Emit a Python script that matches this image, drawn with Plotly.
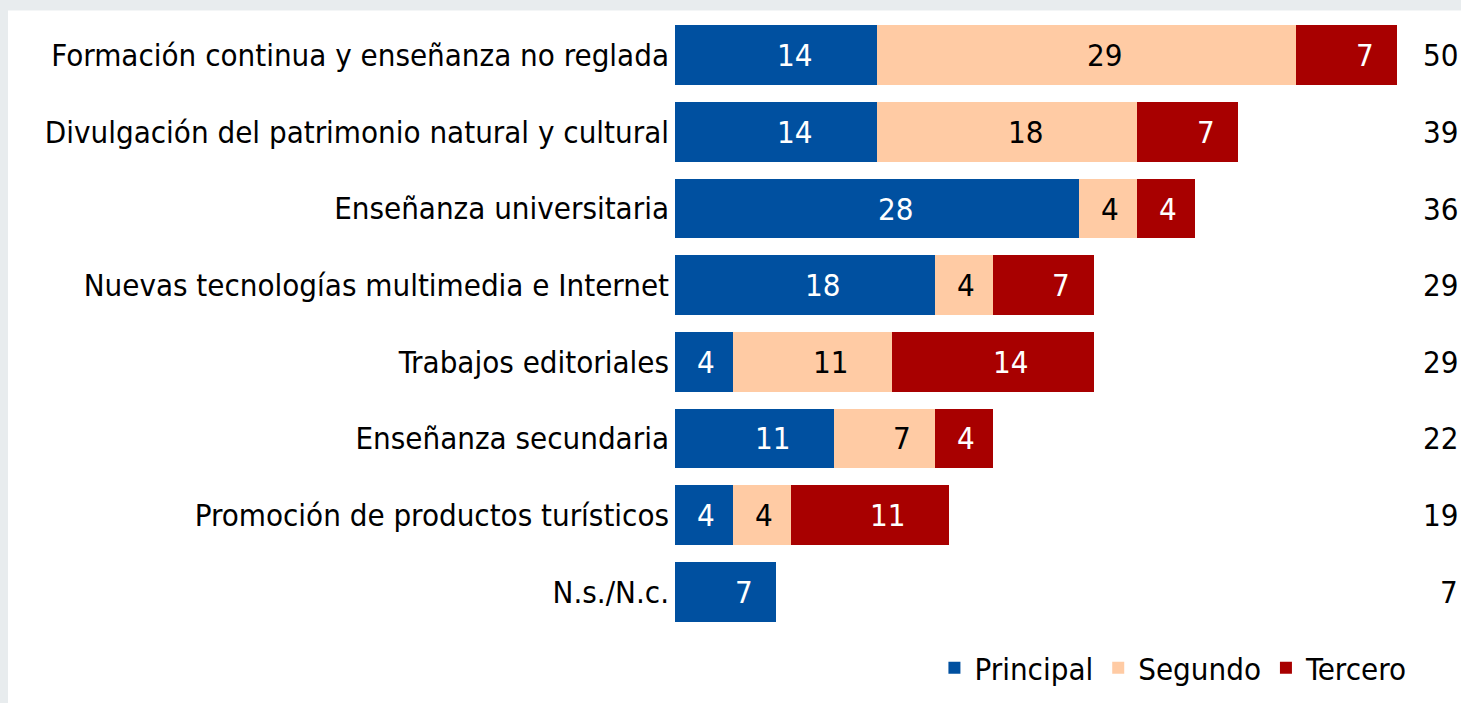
import plotly.graph_objects as go

CATEGORIES = [
    "Formación continua y enseñanza no reglada",
    "Divulgación del patrimonio natural y cultural",
    "Enseñanza universitaria",
    "Nuevas tecnologías multimedia e Internet",
    "Trabajos editoriales",
    "Enseñanza secundaria",
    "Promoción de productos turísticos",
    "N.s./N.c.",
]
PRINCIPAL = [14, 14, 28, 18, 4, 11, 4, 7]
SEGUNDO = [29, 18, 4, 4, 11, 7, 4, 0]
TERCERO = [7, 7, 4, 7, 14, 4, 11, 0]
TOTALS = [50, 39, 36, 29, 29, 22, 19, 7]

SERIES = [
    ("Principal", PRINCIPAL, "#0050A0", "white"),
    ("Segundo", SEGUNDO, "#FFCBA4", "black"),
    ("Tercero", TERCERO, "#A80000", "white"),
]

FONT = "DejaVu Sans Condensed, Roboto, DejaVu Sans"
FS = 31
GRAY = "#E8ECEE"
XMAX = 54.15
PLOT_W = 782
PLOT_H = 614

fig = go.Figure()
for name, vals, color, tcolor in SERIES:
    fig.add_trace(
        go.Bar(
            name=name,
            y=CATEGORIES,
            x=vals,
            orientation="h",
            marker=dict(color=color, line=dict(width=0)),
            hoverinfo="x+name",
        )
    )

annotations = []
# segment labels, nudged right like the original when there is room
base = [0] * len(CATEGORIES)
for name, vals, color, tcolor in SERIES:
    for i, v in enumerate(vals):
        if v:
            seg_px = v * PLOT_W / XMAX
            room = (seg_px - 17.5 * len(str(v))) / 2 - 18
            annotations.append(dict(
                x=base[i] + v / 2, y=CATEGORIES[i], xref="x", yref="y",
                text=str(v), showarrow=False,
                xshift=max(0, min(18, room)),
                font=dict(family=FONT, size=FS, color=tcolor),
            ))
        base[i] += v

# totals at the right edge
for cat, t in zip(CATEGORIES, TOTALS):
    annotations.append(dict(
        x=1, xref="paper", y=cat, yref="y", text=str(t),
        xanchor="right", xshift=3, showarrow=False,
        font=dict(family=FONT, size=FS, color="black"),
    ))

fig.update_layout(
    barmode="stack",
    bargap=0.22,
    width=1461,
    height=703,
    paper_bgcolor=GRAY,
    plot_bgcolor="white",
    margin=dict(l=675, r=4, t=16.5, b=72.5),
    font=dict(family=FONT, size=FS, color="black"),
    xaxis=dict(range=[0, XMAX], visible=False, fixedrange=True),
    yaxis=dict(
        autorange="reversed",
        showgrid=False,
        zeroline=False,
        ticks="",
        ticklabelstandoff=5,
        tickfont=dict(family=FONT, size=FS, color="black"),
        fixedrange=True,
    ),
    showlegend=True,
    legend=dict(
        orientation="h",
        x=0.943, xanchor="right",
        y=-0.018, yanchor="top",
        font=dict(family=FONT, size=FS, color="black"),
        bgcolor="rgba(0,0,0,0)",
        traceorder="normal",
    ),
    shapes=[
        # white card, leaving a thin grey frame at top and left
        dict(
            type="rect", xref="paper", yref="paper",
            x0=-(675 - 8) / PLOT_W, x1=1 + 10 / PLOT_W,
            y0=-80 / PLOT_H, y1=1 + (16.5 - 10) / PLOT_H,
            fillcolor="white", line=dict(width=0), layer="below",
        )
    ],
    annotations=annotations,
)

fig.write_html(
    "out.html",
    config={"displayModeBar": False},
    post_script="document.body.style.margin='0';document.body.style.overflow='hidden';",
)
